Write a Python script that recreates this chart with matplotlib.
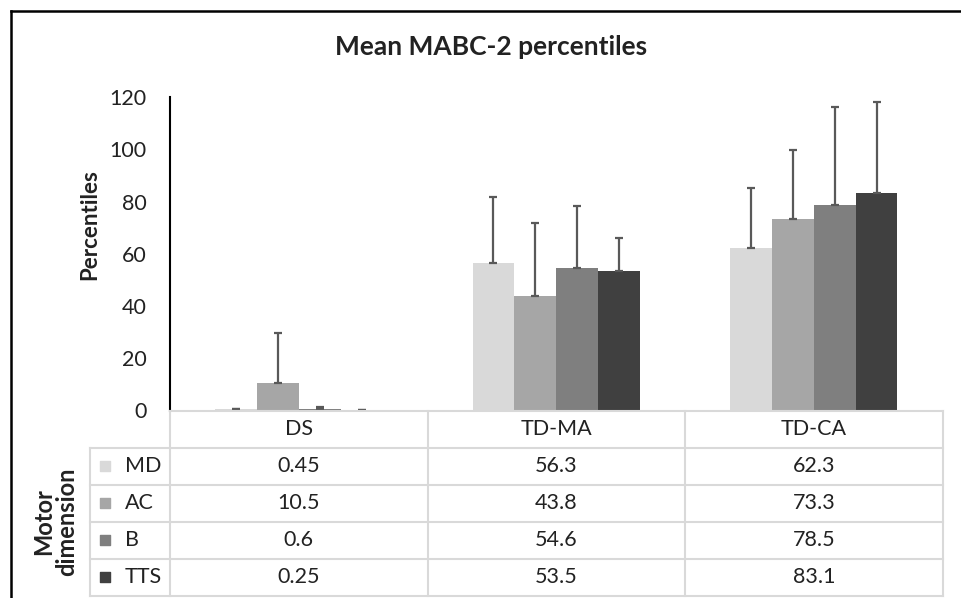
import matplotlib
matplotlib.use("Agg")
import matplotlib.pyplot as plt
import numpy as np

plt.rcParams['font.family'] = ['Lato', 'DejaVu Sans']

groups = ["DS", "TD-MA", "TD-CA"]
series = ["MD", "AC", "B", "TTS"]
values = {
    "MD": [0.45, 56.3, 62.3],
    "AC": [10.5, 43.8, 73.3],
    "B": [0.6, 54.6, 78.5],
    "TTS": [0.25, 53.5, 83.1],
}
errors = {
    "MD": [0.3, 25.3, 22.9],
    "AC": [19.3, 28.0, 26.3],
    "B": [0.7, 23.6, 37.7],
    "TTS": [0.1, 12.7, 34.9],
}
value_labels = {
    "MD": ["0.45", "56.3", "62.3"],
    "AC": ["10.5", "43.8", "73.3"],
    "B": ["0.6", "54.6", "78.5"],
    "TTS": ["0.25", "53.5", "83.1"],
}
colors = {"MD": "#d9d9d9", "AC": "#a6a6a6", "B": "#7f7f7f", "TTS": "#404040"}
yticks = [0, 20, 40, 60, 80, 100, 120]

W, H = 961, 598
fig = plt.figure(figsize=(W / 100, H / 100), dpi=100)

def fx(px):
    return px / W

def fy(py):
    return 1 - py / H

txt = '#222222'

# main axes
ax_l, ax_r, ax_b, ax_t = 170, 942.5, 410.5, 97
ax = fig.add_axes([fx(ax_l), fy(ax_b), fx(ax_r - ax_l), fy(ax_t) - fy(ax_b)])
n = len(series)
group_w = 0.65
bw = group_w / n
x = np.arange(len(groups))
for i, s in enumerate(series):
    pos = x - group_w / 2 + bw * (i + 0.5)
    ax.bar(pos, values[s], width=bw, color=colors[s], zorder=2)
    ax.errorbar(pos, values[s], yerr=[np.zeros(len(groups)), errors[s]],
                fmt='none', ecolor='#595959', elinewidth=1.6, capsize=3,
                capthick=1.6, zorder=3)
ax.set_xlim(-0.5, 2.5)
ax.set_ylim(0, 120)
ax.set_yticks(yticks)
ax.set_yticklabels([str(t) for t in yticks], fontsize=15.5, color=txt)
ax.tick_params(axis='y', length=0, pad=17)
ax.set_xticks([])
for sp in ["top", "right", "bottom"]:
    ax.spines[sp].set_visible(False)
ax.spines["left"].set_linewidth(1.5)
ax.spines["left"].set_color("black")

# table axes
tb_l, tb_r, tb_t, tb_b = 90, 942.5, 410.7, 596
tax = fig.add_axes([fx(tb_l), fy(tb_b), fx(tb_r - tb_l), fy(tb_t) - fy(tb_b)])
col_px = (ax_r - ax_l) / 3
x_left = -0.5 - (ax_l - tb_l) / col_px
tax.set_xlim(x_left, 2.5)
tax.set_ylim(0, 5)
tax.axis('off')
lc = "#d9d9d9"
lw = 1.5
tax.plot([-0.5, 2.5], [5, 5], color=lc, lw=lw, clip_on=False)
for yy in [0, 1, 2, 3, 4]:
    tax.plot([x_left, 2.5], [yy, yy], color=lc, lw=lw, clip_on=False)
for xx in [-0.5, 0.5, 1.5, 2.5]:
    tax.plot([xx, xx], [0, 5], color=lc, lw=lw, clip_on=False)
tax.plot([x_left, x_left], [0, 4], color=lc, lw=lw, clip_on=False)

tfs = 15.5
for j, g in enumerate(groups):
    tax.text(j, 4.5, g, ha='center', va='center', fontsize=tfs, color=txt)
for i, s in enumerate(series):
    yy = 3.5 - i
    for j in range(len(groups)):
        tax.text(j, yy, value_labels[s][j], ha='center', va='center',
                 fontsize=tfs, color=txt)
    sq_x = x_left + (15 / col_px)
    tax.scatter([sq_x], [yy], marker='s', s=60, color=colors[s], clip_on=False)
    tax.text(x_left + (35 / col_px), yy, s, ha='left', va='center',
             fontsize=tfs, color=txt)

# titles and labels
fig.text(fx(491), fy(47), "Mean MABC-2 percentiles", ha='center', va='center',
         fontsize=19, fontweight='bold', color=txt)
fig.text(fx(90), fy(225), "Percentiles", ha='center', va='center',
         rotation=90, fontsize=16, fontweight='bold', color=txt)
fig.text(fx(55), fy(522), "Motor\ndimension", ha='center', va='center',
         rotation=90, fontsize=17, fontweight='bold', color=txt,
         linespacing=1.0, multialignment='center')

# outer border (top and left)
fig.add_artist(plt.Line2D([fx(11), fx(11)], [fy(11), 0], color='black', lw=1.8,
                          transform=fig.transFigure))
fig.add_artist(plt.Line2D([fx(11), 1], [fy(11), fy(11)], color='black', lw=1.8,
                          transform=fig.transFigure))

fig.savefig("out.png", dpi=100)
